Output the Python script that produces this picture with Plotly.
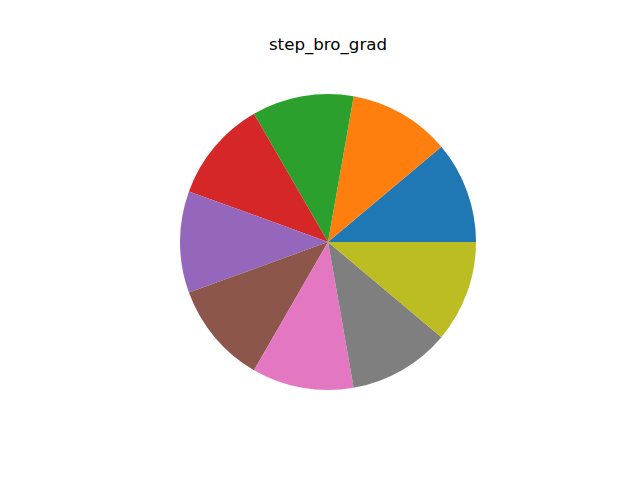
import plotly.graph_objects as go

labels = ["A", "B", "C", "D", "E", "F", "G", "H", "I"]
values = [1, 1, 1, 1, 1, 1, 1, 1, 1]
colors = ["#1f77b4", "#ff7f0e", "#2ca02c", "#d62728", "#9467bd",
          "#8c564b", "#e377c2", "#7f7f7f", "#bcbd22"]
title_text = "step_bro_grad"

W, H = 640, 480
cx, cy, r = 328, 242, 148

fig = go.Figure(go.Pie(
    labels=labels, values=values, sort=False,
    direction="counterclockwise", rotation=50,
    marker=dict(colors=colors, line=dict(width=0)),
    textinfo="none", hoverinfo="label+value",
    showlegend=False,
    domain=dict(x=[(cx - r) / W, (cx + r) / W],
                y=[(H - cy - r) / H, (H - cy + r) / H]),
))

fig.update_layout(
    width=W, height=H,
    margin=dict(l=0, r=0, t=0, b=0),
    paper_bgcolor="white", plot_bgcolor="white",
    title=dict(text=title_text, x=cx / W, xanchor="center",
               y=1 - 44 / H, yanchor="middle",
               font=dict(family="DejaVu Sans", size=16.67, color="black")),
)

fig.write_html("out.html")
